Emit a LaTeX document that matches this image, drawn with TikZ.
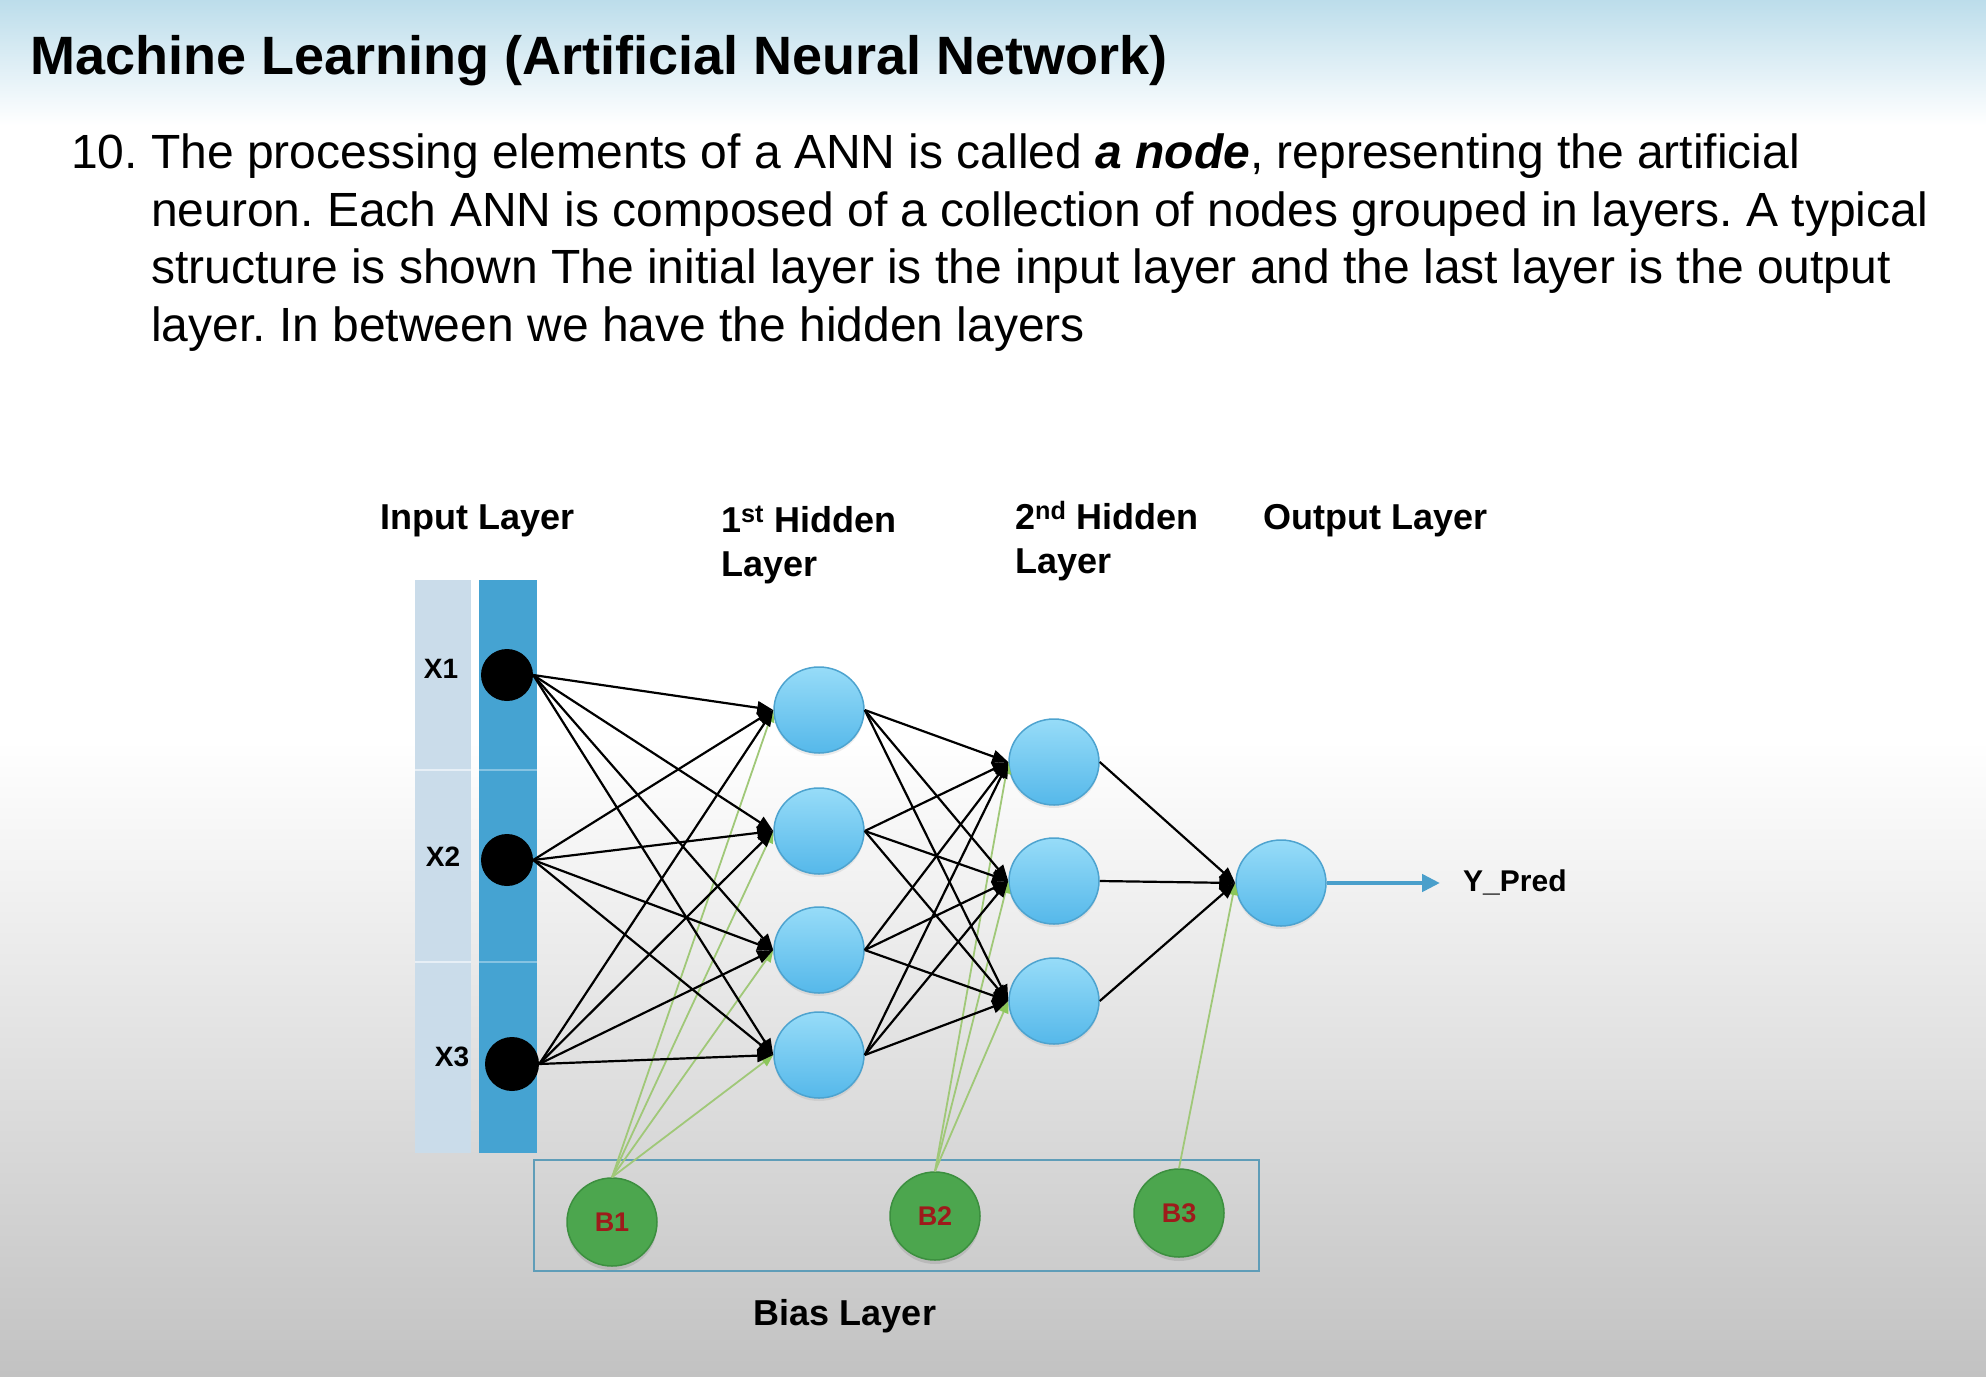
\documentclass[tikz,border=0pt]{standalone}
\usepackage{fontspec}
\setmainfont{Liberation Sans}
\usetikzlibrary{arrows.meta,shapes.geometric,shadows}
\frenchspacing

\definecolor{skytop}{HTML}{BCDDEB}
\definecolor{floorgray}{HTML}{C2C2C2}
\definecolor{barlight}{HTML}{CADCEA}
\definecolor{bardark}{HTML}{45A3D2}
\definecolor{neurontop}{HTML}{97DCF8}
\definecolor{neuronbot}{HTML}{55B8EA}
\definecolor{neuronedge}{HTML}{4DA3CF}
\definecolor{biasfill}{HTML}{4CA64E}
\definecolor{biasedge}{HTML}{3C8F3F}
\definecolor{biastext}{HTML}{9E1B1B}
\definecolor{biasline}{HTML}{A0C878}
\definecolor{biastip}{HTML}{8CC65A}
\definecolor{boxedge}{HTML}{5F9DB8}
\definecolor{outarrow}{HTML}{4A9FCB}

\tikzset{
  heading/.style={anchor=base west, inner sep=0pt, font=\fontsize{54}{60}\selectfont\bfseries},
  bodyline/.style={anchor=base west, inner sep=0pt, font=\fontsize{48}{58}\selectfont},
  layerlabel/.style={anchor=base west, inner sep=0pt, font=\fontsize{36}{44}\selectfont\bfseries},
  inputlabel/.style={inner sep=0pt, font=\fontsize{28}{32}\selectfont\bfseries},
  inputnode/.style={circle, fill=black, minimum size=52pt, inner sep=0pt},
  neuron/.style={ellipse, minimum width=90pt, minimum height=86pt, inner sep=0pt,
    draw=neuronedge, line width=1.5pt, top color=neurontop, bottom color=neuronbot,
    drop shadow={shadow xshift=0pt, shadow yshift=-3pt, opacity=0.15}},
  biasnode/.style={ellipse, minimum width=90pt, minimum height=88pt, inner sep=0pt,
    draw=biasedge, line width=1.5pt, fill=biasfill, text=biastext,
    font=\fontsize{27}{30}\selectfont\bfseries,
    drop shadow={shadow xshift=0pt, shadow yshift=-4pt, opacity=0.25}},
  link/.style={draw=black, line width=2.2pt, -{Triangle[length=16pt,width=13pt]}},
  biaslink/.style={draw=biasline, line width=1.8pt, -{Triangle[length=12pt,width=10pt,color=biastip]}},
}

\begin{document}
\begin{tikzpicture}[x=1pt,y=-1pt]
\useasboundingbox (0,0) rectangle (1986,1376);

% slide background
\fill[white] (0,0) rectangle (1986,1376);
\shade[top color=skytop, bottom color=white] (0,0) rectangle (1986,125);
\shade[top color=white, bottom color=floorgray] (0,740) rectangle (1986,1376);

% heading and text
\node[heading] (title) at (30,74) {Machine Learning (Artificial Neural Network)};
\node[bodyline] (num) at (71,168) {10.};
\node[bodyline] (p1) at (151,168) {The processing elements of a ANN is called \textbf{\textit{a node}}, representing the artificial};
\node[bodyline] (p2) at (151,226) {neuron. Each ANN is composed of a collection of nodes grouped in layers. A typical};
\node[bodyline] (p3) at (151,283) {structure is shown The initial layer is the input layer and the last layer is the output};
\node[bodyline] (p4) at (151,341) {layer. In between we have the hidden layers};

% layer titles
\node[layerlabel] (linput) at (380,529) {Input Layer};
\node[layerlabel] (lh1a) at (721,532) {1\textsuperscript{st} Hidden};
\node[layerlabel] (lh1b) at (721,576) {Layer};
\node[layerlabel] (lh2a) at (1015,529) {2\textsuperscript{nd} Hidden};
\node[layerlabel] (lh2b) at (1015,573) {Layer};
\node[layerlabel] (lout) at (1263,529) {Output Layer};

% input bars
\fill[barlight] (415,580) rectangle (471,1153);
\fill[bardark] (479,580) rectangle (537,1153);
\foreach \yy in {770,962} {
  \draw[white!55!barlight, line width=1.5pt] (415,\yy) -- (471,\yy);
  \draw[white!35!bardark, line width=1.5pt] (479,\yy) -- (537,\yy);
}

% bias frame
\node[draw=boxedge, line width=2pt, minimum width=725pt, minimum height=111pt, inner sep=0pt] (biasbox) at (896.5,1215.5) {};
\node[layerlabel, anchor=base] (lbias) at (845,1325) {Bias Layer};

% input nodes
\node[inputnode] (x1) at (507,675) {};
\node[inputnode] (x2) at (507,860) {};
\node[inputnode, minimum size=54pt] (x3) at (512,1064) {};
\node[inputlabel] (tx1) at (441,669) {X1};
\node[inputlabel] (tx2) at (443,857) {X2};
\node[inputlabel] (tx3) at (452,1057) {X3};

% hidden layers and output
\node[neuron] (h1) at (819,710) {};
\node[neuron] (h2) at (819,831) {};
\node[neuron] (h3) at (819,950) {};
\node[neuron] (h4) at (819,1055) {};
\node[neuron] (g1) at (1054,762) {};
\node[neuron] (g2) at (1054,881) {};
\node[neuron] (g3) at (1054,1001) {};
\node[neuron] (out) at (1281,883) {};

% bias nodes
\node[biasnode] (b1) at (612,1222) {B1};
\node[biasnode] (b2) at (935,1216) {B2};
\node[biasnode] (b3) at (1179,1213) {B3};

% bias connections
\foreach \j in {1,...,4} \draw[biaslink] (b1.north) -- (h\j.west);
\foreach \j in {1,2,3} \draw[biaslink] (b2.north) -- (g\j.west);
\draw[biaslink] (b3.north) -- (out.west);

% weighted connections
\foreach \i in {1,2,3} \foreach \j in {1,...,4} \draw[link] (x\i.east) -- (h\j.west);
\foreach \i in {1,...,4} \foreach \j in {1,2,3} \draw[link] (h\i.east) -- (g\j.west);
\foreach \j in {1,2,3} \draw[link] (g\j.east) -- (out.west);

% prediction
\node[anchor=base west, inner sep=0pt, font=\fontsize{30}{34}\selectfont\bfseries] (ypred) at (1463,891) {Y\_Pred};
\draw[outarrow, line width=4.5pt, -{Triangle[length=18pt,width=17pt]}] (out.east) -- ([xshift=-23pt]ypred.west |- out.east);
\end{tikzpicture}
\end{document}
